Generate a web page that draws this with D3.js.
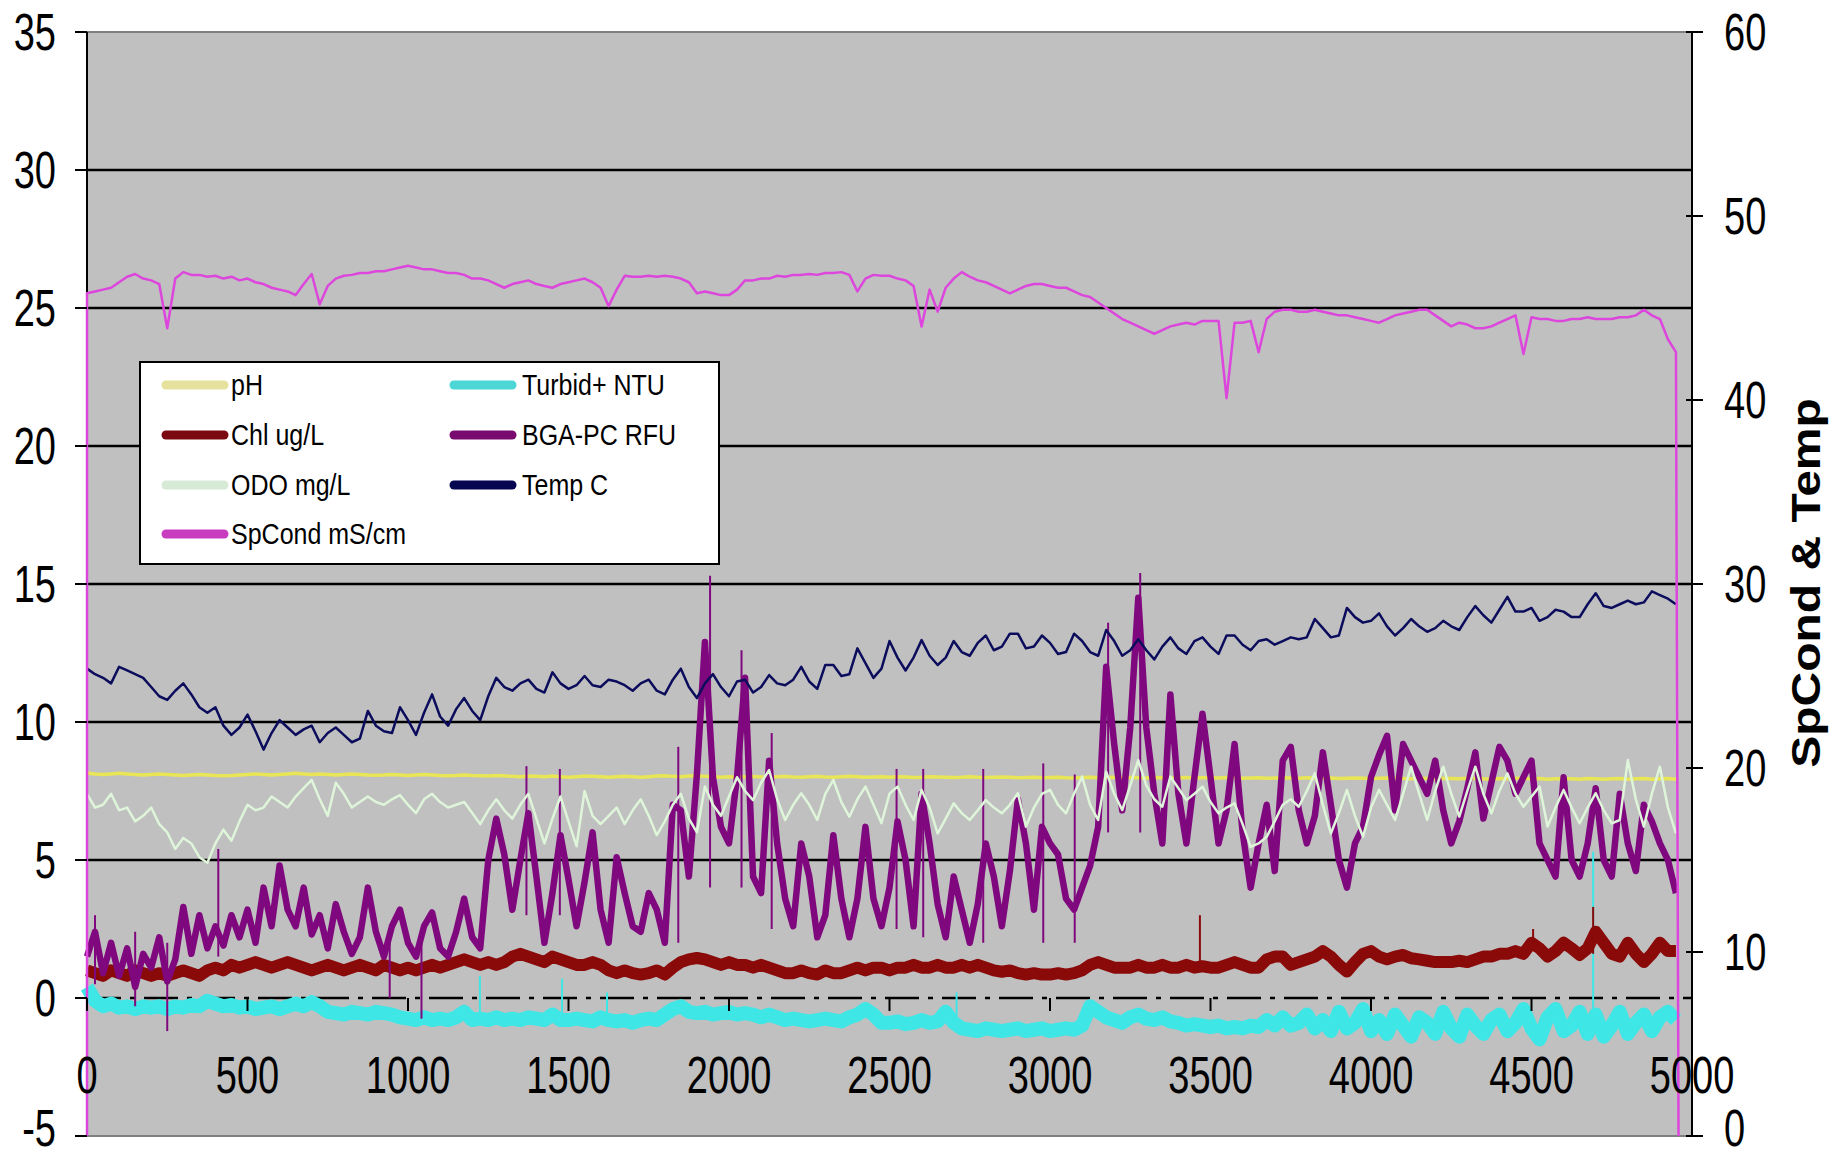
<!DOCTYPE html>
<html><head><meta charset="utf-8">
<script src="https://cdn.jsdelivr.net/npm/d3@7"></script>
<style>html,body{margin:0;padding:0;background:#fff;} svg{display:block;}</style>
</head><body>
<svg id="chart" width="1846" height="1158"></svg>
<script>
// ---------- data (one reading every 25 samples, sample 0 .. 4950) ----------
const sampleStep = 25;
const xTickValues = [0, 500, 1000, 1500, 2000, 2500, 3000, 3500, 4000, 4500, 5000];
const leftTickValues = [-5, 0, 5, 10, 15, 20, 25, 30, 35];
const rightTickValues = [0, 10, 20, 30, 40, 50, 60];
const rightAxisTitle = "SpCond & Temp";

const pH = [
 8.15,8.12,8.1,8.12,8.14,8.12,8.1,8.08,8.1,8.12,
 8.1,8.08,8.06,8.08,8.1,8.08,8.06,8.05,8.06,8.08,
 8.1,8.12,8.1,8.08,8.1,8.12,8.14,8.12,8.1,8.12,
 8.1,8.08,8.1,8.12,8.1,8.08,8.07,8.08,8.1,8.08,
 8.06,8.08,8.1,8.08,8.06,8.05,8.06,8.08,8.06,8.05,
 8.04,8.06,8.05,8.03,8.02,8.04,8.03,8.02,8.04,8.02,
 8.0,8.02,8.04,8.03,8.02,8.0,8.02,8.03,8.02,8.0,
 8.02,8.04,8.05,8.03,8.02,8.04,8.05,8.03,8.02,8.0,
 8.02,8.0,8.02,8.03,8.01,8.0,8.02,8.03,8.01,8.0,
 8.02,8.03,8.01,8.0,8.02,8.03,8.02,8.0,8.01,8.02,
 8.0,8.02,8.01,7.99,8.0,8.02,8.01,8.0,7.99,8.0,
 8.02,8.0,7.99,8.0,8.01,8.0,7.98,7.99,8.0,7.98,
 7.99,8.0,7.98,7.97,7.99,8.0,7.98,7.99,8.0,7.98,
 7.99,7.98,7.97,7.99,7.98,7.97,7.98,7.99,7.97,7.98,
 7.98,7.97,7.99,7.98,7.96,7.97,7.98,7.96,7.97,7.98,
 7.97,7.96,7.98,7.97,7.96,7.97,7.95,7.96,7.97,7.96,
 7.95,7.96,7.97,7.96,7.95,7.94,7.96,7.95,7.94,7.96,
 7.95,7.94,7.96,7.95,7.94,7.93,7.95,7.94,7.96,7.95,
 7.94,7.95,7.93,7.94,7.95,7.94,7.93,7.95,7.94,7.93,
 7.94,7.95,7.93,7.94,7.95,7.93,7.94,7.95,7.93
];

const turbidity = [
 0.4,-0.1,-0.3,-0.2,-0.35,-0.3,-0.4,-0.3,-0.35,-0.3,
 -0.4,-0.3,-0.35,-0.25,-0.3,-0.1,-0.2,-0.3,-0.25,-0.35,
 -0.3,-0.4,-0.35,-0.3,-0.4,-0.3,-0.2,-0.3,-0.15,-0.3,
 -0.5,-0.55,-0.6,-0.5,-0.55,-0.6,-0.5,-0.55,-0.6,-0.7,
 -0.75,-0.8,-0.7,-0.8,-0.75,-0.8,-0.7,-0.5,-0.8,-0.75,
 -0.8,-0.7,-0.8,-0.75,-0.8,-0.7,-0.75,-0.8,-0.6,-0.8,
 -0.8,-0.75,-0.8,-0.85,-0.7,-0.8,-0.85,-0.8,-0.9,-0.8,
 -0.75,-0.8,-0.6,-0.4,-0.3,-0.5,-0.55,-0.5,-0.6,-0.55,
 -0.5,-0.6,-0.55,-0.6,-0.7,-0.6,-0.7,-0.8,-0.75,-0.8,
 -0.85,-0.8,-0.75,-0.8,-0.85,-0.7,-0.6,-0.4,-0.6,-0.9,
 -0.9,-0.85,-0.95,-0.9,-0.8,-0.9,-0.85,-0.5,-0.9,-1.1,
 -1.15,-1.2,-1.1,-1.15,-1.2,-1.15,-1.1,-1.2,-1.15,-1.1,
 -1.2,-1.15,-1.1,-1.15,-1.0,-0.3,-0.5,-0.7,-0.8,-0.9,
 -0.7,-0.6,-0.75,-0.8,-0.7,-0.85,-0.9,-1.0,-0.95,-1.0,
 -1.05,-1.0,-1.1,-1.05,-1.1,-1.0,-1.05,-0.8,-1.0,-0.7,
 -1.0,-0.9,-0.6,-1.1,-0.8,-1.2,-0.5,-1.1,-0.9,-0.4,
 -1.2,-0.8,-1.3,-0.6,-1.0,-1.4,-0.7,-0.9,-1.3,-0.5,
 -1.1,-1.4,-0.6,-1.0,-1.3,-0.8,-0.6,-1.2,-0.9,-0.4,
 -1.1,-1.5,-0.7,-0.4,-1.2,-1.0,-0.5,-1.3,-0.6,-1.4,
 -1.0,-0.5,-1.3,-0.9,-0.6,-1.2,-0.7,-0.5,-0.8
];

const chl = [
 1.0,0.9,0.8,1.0,0.9,0.8,1.0,0.9,0.8,0.9,
 0.8,0.9,1.0,0.9,0.8,1.0,1.1,1.0,1.2,1.1,
 1.2,1.3,1.2,1.1,1.2,1.3,1.2,1.1,1.0,1.1,
 1.2,1.1,1.0,1.1,1.2,1.1,1.0,1.2,1.1,1.0,
 1.1,1.0,1.1,1.2,1.1,1.2,1.3,1.4,1.3,1.2,
 1.3,1.2,1.3,1.5,1.6,1.5,1.4,1.3,1.5,1.4,
 1.3,1.2,1.2,1.3,1.2,1.0,0.9,1.0,0.9,0.85,
 0.9,1.0,0.85,1.1,1.3,1.4,1.45,1.4,1.3,1.2,
 1.3,1.2,1.2,1.1,1.2,1.1,1.0,0.9,0.9,1.0,
 0.9,0.85,1.0,0.9,0.9,1.0,1.1,1.0,1.1,1.1,
 1.0,1.1,1.1,1.2,1.1,1.1,1.2,1.1,1.1,1.2,
 1.1,1.2,1.1,1.0,0.95,1.0,0.9,0.85,0.9,0.85,
 0.85,0.9,0.85,0.9,1.0,1.2,1.3,1.2,1.1,1.1,
 1.1,1.2,1.1,1.1,1.2,1.1,1.1,1.2,1.1,1.15,
 1.1,1.1,1.2,1.3,1.2,1.1,1.1,1.4,1.5,1.5,
 1.2,1.3,1.4,1.5,1.7,1.5,1.2,0.96,1.3,1.6,
 1.7,1.5,1.4,1.5,1.56,1.44,1.4,1.35,1.3,1.3,
 1.3,1.35,1.3,1.4,1.5,1.5,1.6,1.6,1.7,1.6,
 2.0,1.8,1.5,1.7,2.0,1.8,1.56,1.8,2.4,2.0,
 1.6,1.5,2.0,1.6,1.3,1.6,2.0,1.7,1.7
];

const bga = [
 1.5,2.4,0.9,2.0,0.8,1.8,0.4,1.6,1.1,2.2,
 0.6,1.4,3.3,1.6,3.0,1.8,2.6,1.9,3.0,2.2,
 3.2,2.0,4.0,2.6,4.8,3.2,2.6,4.0,2.3,3.0,
 1.8,3.4,2.4,1.6,2.2,4.0,2.4,1.5,2.6,3.2,
 2.0,1.5,2.6,3.1,1.8,1.5,2.4,3.6,2.2,1.8,
 5.0,6.5,5.2,3.2,5.0,6.7,4.4,2.0,3.8,5.9,
 4.3,2.6,4.2,6.0,3.2,2.0,5.1,3.8,2.6,2.4,
 3.8,3.2,2.0,7.0,6.8,4.4,8.1,12.9,8.0,6.2,
 5.6,8.0,11.6,4.4,3.8,8.6,5.6,3.6,2.6,5.6,
 4.4,2.2,3.0,5.9,3.6,2.2,3.6,6.2,3.6,2.6,
 4.0,6.4,5.0,2.6,7.4,5.6,3.4,2.2,4.4,3.2,
 2.0,3.4,5.6,4.4,2.6,4.6,7.2,5.6,3.2,6.2,
 5.6,5.2,3.6,3.2,4.0,4.8,6.2,12.0,9.2,6.8,
 9.8,14.5,9.8,7.4,5.6,11.0,7.4,5.6,8.0,10.3,
 8.0,5.6,6.8,9.2,6.0,4.0,5.6,7.0,4.6,8.6,
 9.1,6.8,5.6,6.6,8.9,7.0,5.0,4.0,5.6,6.2,
 8.0,8.8,9.5,6.8,9.2,8.6,8.0,7.4,8.6,6.8,
 5.6,6.4,7.6,8.9,6.5,7.8,9.1,8.6,7.4,8.0,
 8.6,5.6,5.0,4.4,8.0,5.0,4.4,5.6,7.6,5.0,
 4.4,7.4,5.6,4.6,7.0,6.4,5.6,5.0,3.8
];

const odo = [
 7.4,6.9,7.0,7.4,6.8,6.9,6.4,6.6,6.9,6.3,
 6.0,5.4,5.8,5.6,5.1,4.9,5.6,6.1,5.7,6.4,
 7.0,6.8,6.9,7.3,7.1,6.9,7.3,7.6,7.9,7.2,
 6.6,7.8,7.4,6.9,7.1,7.3,7.1,7.0,7.2,7.35,
 7.0,6.7,7.2,7.4,7.1,6.9,7.0,7.1,6.7,6.3,
 6.8,7.2,6.8,6.5,7.0,7.4,6.5,5.6,6.5,7.3,
 6.4,5.5,7.5,6.6,6.3,6.6,6.9,6.3,6.8,7.2,
 6.6,5.9,6.4,7.0,7.4,6.5,6.0,7.66,7.0,6.6,
 7.3,8.0,7.5,7.17,7.8,8.26,7.2,6.45,7.0,7.42,
 7.0,6.45,7.4,7.9,7.1,6.57,7.2,7.66,7.0,6.33,
 7.4,7.66,7.0,6.45,7.54,6.9,5.96,6.5,7.05,6.7,
 6.45,6.8,7.17,6.9,6.69,7.0,7.42,6.21,6.9,7.4,
 7.54,7.0,6.69,7.4,8.02,7.0,6.45,8.2,7.4,6.81,
 7.7,8.62,7.7,7.2,6.93,8.02,7.6,7.17,7.4,7.66,
 7.1,6.69,6.9,7.05,6.3,5.48,5.6,5.84,6.4,7.0,
 7.2,6.93,7.5,8.14,7.0,5.96,6.7,7.54,6.6,5.84,
 6.9,7.54,7.0,6.45,7.4,8.38,7.4,6.45,7.5,8.38,
 7.4,6.57,7.5,8.38,7.4,6.69,7.5,8.14,7.4,6.93,
 7.3,7.66,6.21,6.9,7.54,6.9,6.33,6.9,7.42,6.8,
 6.33,6.45,8.62,7.2,6.21,7.4,8.38,6.9,5.96
];

const temp = [
 25.4,25.1,24.9,24.6,25.5,25.3,25.1,24.9,24.4,23.9,
 23.7,24.2,24.6,24.0,23.3,23.0,23.3,22.3,21.8,22.2,
 22.9,22.0,21.0,21.9,22.6,22.2,21.8,22.1,22.3,21.4,
 21.9,22.2,21.8,21.4,21.6,23.1,22.3,22.0,21.9,23.3,
 22.6,21.8,23.0,24.0,22.8,22.3,23.2,23.8,23.1,22.6,
 23.9,24.9,24.4,24.2,24.6,24.8,24.3,24.1,25.2,24.6,
 24.3,24.5,25.0,24.5,24.4,24.8,24.7,24.5,24.2,24.6,
 24.8,24.2,24.0,24.8,25.4,24.4,23.8,24.6,25.1,24.4,
 23.9,24.7,24.8,24.1,24.4,25.05,24.6,24.5,24.8,25.5,
 24.7,24.3,25.6,25.6,25.0,25.1,26.5,25.7,24.9,25.4,
 26.9,26.0,25.3,26.0,26.95,26.1,25.6,26.0,26.9,26.3,
 26.1,26.8,27.2,26.4,26.6,27.3,27.3,26.5,26.6,27.2,
 26.8,26.2,26.3,27.3,26.9,26.3,26.1,27.5,26.9,26.1,
 26.4,27.0,26.4,25.9,26.6,27.1,26.5,26.2,26.9,27.1,
 26.6,26.2,27.2,27.2,26.7,26.4,26.9,27.0,26.7,26.9,
 27.1,27.0,27.1,28.1,27.6,27.1,27.2,28.7,28.2,27.9,
 28.0,28.4,27.7,27.2,27.6,28.1,27.7,27.4,27.6,28.0,
 27.7,27.5,28.2,28.8,28.3,27.9,28.6,29.3,28.5,28.5,
 28.7,28.0,28.2,28.6,28.5,28.2,28.2,28.9,29.5,28.8,
 28.7,28.9,29.1,28.9,29.0,29.6,29.4,29.2,28.9
];

const spCond = [
 45.8,45.9,46.0,46.1,46.4,46.7,46.85,46.6,46.5,46.3,
 43.9,46.6,46.95,46.8,46.8,46.7,46.75,46.6,46.7,46.5,
 46.6,46.4,46.3,46.1,46.0,45.9,45.7,46.3,46.85,45.2,
 46.2,46.6,46.75,46.8,46.9,46.9,47.0,47.0,47.1,47.2,
 47.3,47.2,47.1,47.1,47.0,46.9,46.9,46.8,46.6,46.6,
 46.5,46.3,46.1,46.3,46.4,46.5,46.3,46.2,46.1,46.3,
 46.4,46.5,46.6,46.4,46.1,45.1,46.0,46.75,46.7,46.7,
 46.75,46.7,46.75,46.7,46.6,46.4,45.8,45.9,45.8,45.7,
 45.7,46.0,46.5,46.5,46.6,46.6,46.75,46.7,46.8,46.8,
 46.85,46.8,46.9,46.9,46.95,46.8,45.9,46.6,46.8,46.75,
 46.75,46.6,46.5,46.2,44.0,46.0,44.8,46.1,46.6,46.95,
 46.7,46.5,46.4,46.2,46.0,45.8,46.0,46.2,46.3,46.3,
 46.2,46.1,46.1,45.9,45.7,45.6,45.3,45.0,44.7,44.4,
 44.2,44.0,43.8,43.6,43.8,44.0,44.1,44.2,44.1,44.3,
 44.3,44.3,40.1,44.2,44.2,44.3,42.6,44.4,44.8,44.9,
 44.9,44.8,44.8,44.9,44.8,44.7,44.6,44.6,44.5,44.4,
 44.3,44.2,44.4,44.6,44.7,44.8,44.9,44.9,44.6,44.3,
 44.0,44.2,44.1,43.9,43.9,44.0,44.2,44.4,44.6,42.5,
 44.5,44.4,44.4,44.3,44.3,44.4,44.4,44.5,44.4,44.4,
 44.4,44.5,44.5,44.6,44.9,44.6,44.4,43.3,42.6
];
// the probe reads 0 before logging starts and after it is pulled out
const spCondEdgeSamples = [0, 4958];
const spCondEdgeValues = [0, 0];

// single-sample spikes: [sample, from value, to value]
const bgaSpikes = [[25,0.5,3.0],[150,-0.3,2.4],[250,-1.2,2.0],[409,1.5,5.4],[943,0.0,2.4],[1042,-0.75,2.0],
 [1369,3.0,8.4],[1473,3.0,8.3],[1842,2.0,9.1],[1941,4.0,15.3],[2039,4.0,12.6],[2133,2.5,9.6],[2522,2.5,8.3],
 [2605,2.2,8.3],[2792,2.0,8.3],[2979,2.0,8.5],[3077,2.0,8.1],[3181,6.0,13.6],[3281,6.0,15.4]];
const chlSpikes = [[3467,1.1,3.0],[4505,1.7,2.5],[4692,1.6,3.3]];
const turbiditySpikes = [[1224,-0.7,0.8],[1480,-0.7,0.7],[1620,-0.8,0.2],[2709,-1.0,0.2],[4692,-0.8,5.3]];

const seriesNames = ["pH","Turbid+ NTU","Chl ug/L","BGA-PC RFU","ODO mg/L","Temp C","SpCond mS/cm"];

// ---------- chart ----------
const svg = d3.select("#chart");
const W = 1846, H = 1158;
const plot = {left: 87, right: 1692, top: 32, bottom: 1136};
const x = d3.scaleLinear().domain([0, 5000]).range([plot.left, plot.right]);
const yL = d3.scaleLinear().domain([-5, 35]).range([plot.bottom, plot.top]);
const yR = d3.scaleLinear().domain([0, 60]).range([plot.bottom, plot.top]);
const FONT = "'Liberation Sans', Arial, Helvetica, sans-serif";

svg.append("rect").attr("width", W).attr("height", H).attr("fill", "#fff");
svg.append("rect").attr("x", plot.left).attr("y", plot.top)
  .attr("width", plot.right - plot.left).attr("height", plot.bottom - plot.top)
  .attr("fill", "#c0c0c0");
svg.append("line").attr("x1", plot.left).attr("x2", plot.right).attr("y1", plot.top).attr("y2", plot.top)
  .attr("stroke", "#808080").attr("stroke-width", 2);
svg.append("line").attr("x1", plot.left).attr("x2", plot.right).attr("y1", plot.bottom).attr("y2", plot.bottom)
  .attr("stroke", "#808080").attr("stroke-width", 2);

// gridlines
svg.append("g").selectAll("line").data(leftTickValues.filter(v => v > 0 && v < 35)).join("line")
  .attr("x1", plot.left).attr("x2", plot.right)
  .attr("y1", d => yL(d)).attr("y2", d => yL(d))
  .attr("stroke", "#000").attr("stroke-width", 2.5);

const seriesDefs = [
  {name: seriesNames[0], values: pH,        scale: yL, color: "#e8e656", width: 3.5, legend: "#e6e29e", spikes: []},
  {name: seriesNames[1], values: turbidity, scale: yL, color: "#3fe6e6", width: 14,  legend: "#4cd6d6", spikes: turbiditySpikes},
  {name: seriesNames[2], values: chl,       scale: yL, color: "#8a0a0a", width: 12,  legend: "#7a0a10", spikes: chlSpikes},
  {name: seriesNames[3], values: bga,       scale: yL, color: "#80087f", width: 6.5, legend: "#780a70", spikes: bgaSpikes},
  {name: seriesNames[4], values: odo,       scale: yL, color: "#def5da", width: 2.5, legend: "#d6ead6", spikes: []},
  {name: seriesNames[5], values: temp,      scale: yR, color: "#0c0c5c", width: 2.5, legend: "#050550", spikes: []},
  {name: seriesNames[6], values: spCond,    scale: yR, color: "#dc46dc", width: 2.5, legend: "#c83cc0", spikes: []}
];

// zero line (x axis), drawn under the series
svg.append("line").attr("x1", plot.left).attr("x2", plot.right)
  .attr("y1", yL(0)).attr("y2", yL(0))
  .attr("stroke", "#000").attr("stroke-width", 2.5).attr("stroke-dasharray", "34,9,5,9");

// axes lines
svg.append("line").attr("x1", plot.left).attr("x2", plot.left).attr("y1", plot.top).attr("y2", plot.bottom)
  .attr("stroke", "#000").attr("stroke-width", 2);
svg.append("line").attr("x1", plot.right).attr("x2", plot.right).attr("y1", plot.top).attr("y2", plot.bottom)
  .attr("stroke", "#000").attr("stroke-width", 2);

const gSeries = svg.append("g");
seriesDefs.forEach(s => {
  let pts = s.values.map((v, i) => ({t: i * sampleStep, v}));
  if (s.values === spCond) {
    pts = [{t: spCondEdgeSamples[0], v: spCondEdgeValues[0]}, ...pts,
           {t: spCondEdgeSamples[1], v: spCondEdgeValues[1]}];
  }
  const line = d3.line().x(d => x(d.t)).y(d => s.scale(d.v));
  gSeries.append("path").datum(pts).attr("d", line)
    .attr("fill", "none").attr("stroke", s.color).attr("stroke-width", s.width)
    .attr("stroke-linejoin", "round");
  gSeries.append("g").selectAll("line").data(s.spikes).join("line")
    .attr("x1", d => x(d[0])).attr("x2", d => x(d[0]))
    .attr("y1", d => s.scale(d[1])).attr("y2", d => s.scale(d[2]))
    .attr("stroke", s.color).attr("stroke-width", 2);
});

// left ticks & labels
const TK = 1.35; // vertical stretch of the original picture's text
const labelBase = (y) => Math.min(y + 18, 1146);
svg.append("g").selectAll("line").data(leftTickValues).join("line")
  .attr("x1", plot.left - 12).attr("x2", plot.left).attr("y1", d => yL(d)).attr("y2", d => yL(d))
  .attr("stroke", "#000").attr("stroke-width", 2);
svg.append("g").selectAll("text").data(leftTickValues).join("text")
  .attr("transform", d => `translate(56,${labelBase(yL(d))}) scale(1,${TK})`)
  .attr("text-anchor", "end").attr("font-family", FONT).attr("font-size", 38).attr("fill", "#000")
  .text(d => d);

// right ticks & labels
svg.append("g").selectAll("line").data(rightTickValues).join("line")
  .attr("x1", plot.right - 6).attr("x2", plot.right + 11).attr("y1", d => yR(d)).attr("y2", d => yR(d))
  .attr("stroke", "#000").attr("stroke-width", 2);
svg.append("g").selectAll("text").data(rightTickValues).join("text")
  .attr("transform", d => `translate(1724,${labelBase(yR(d))}) scale(1,${TK})`)
  .attr("text-anchor", "start").attr("font-family", FONT).attr("font-size", 38).attr("fill", "#000")
  .text(d => d);

// x ticks & labels (inside plot, below zero line)
svg.append("g").selectAll("line").data(xTickValues).join("line")
  .attr("x1", d => x(d)).attr("x2", d => x(d)).attr("y1", yL(0)).attr("y2", yL(0) + 13)
  .attr("stroke", "#000").attr("stroke-width", 2);
svg.append("g").selectAll("text").data(xTickValues).join("text")
  .attr("transform", d => `translate(${x(d)},1093) scale(1,${TK})`)
  .attr("text-anchor", "middle").attr("font-family", FONT).attr("font-size", 38).attr("fill", "#000")
  .text(d => d);

// right axis title
svg.append("text")
  .attr("transform", "translate(1820,583) scale(1,1.2) rotate(-90)")
  .attr("text-anchor", "middle").attr("font-family", FONT).attr("font-weight", "bold")
  .attr("font-size", 40).attr("fill", "#000").text(rightAxisTitle);

// legend
const lg = svg.append("g");
lg.append("rect").attr("x", 140).attr("y", 362).attr("width", 579).attr("height", 202)
  .attr("fill", "#fff").attr("stroke", "#000").attr("stroke-width", 2);
const legendOrder = seriesDefs.map((s, i) => ({s, col: i % 2, row: Math.floor(i / 2)}));
const colSwatch = [166, 454], colText = [231, 522], rowY = [385, 435, 485, 534];
legendOrder.forEach(({s, col, row}) => {
  lg.append("line").attr("x1", colSwatch[col]).attr("x2", colSwatch[col] + 58)
    .attr("y1", rowY[row]).attr("y2", rowY[row])
    .attr("stroke", s.legend).attr("stroke-width", 9).attr("stroke-linecap", "round");
  lg.append("text").attr("transform", `translate(${colText[col]},${rowY[row] + 10}) scale(1,1.2)`)
    .attr("font-family", FONT).attr("font-size", 25).attr("fill", "#000").text(s.name);
});
</script>
</body></html>
